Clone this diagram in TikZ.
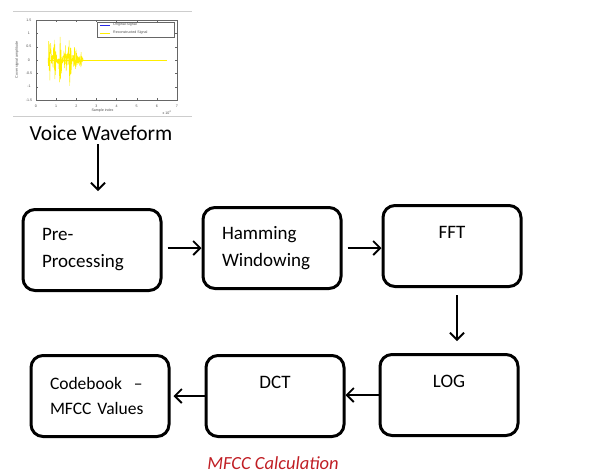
\documentclass[tikz,border=0pt]{standalone}
\usepackage{fontspec}
\setmainfont{Carlito}
\setsansfont{Liberation Sans}
\usetikzlibrary{arrows.meta}

\definecolor{capred}{RGB}{192,30,36}
\definecolor{sigyellow}{RGB}{255,238,0}
\definecolor{sigblue}{RGB}{40,40,230}
\definecolor{rulegray}{RGB}{205,205,205}

\tikzset{
  stagebox/.style={draw, line width=3pt, rounded corners=12pt, minimum width=138pt,
    minimum height=81pt, text width=100pt, inner xsep=0pt,
    font=\fontsize{19}{27}\selectfont},
  flow/.style={line width=1.8pt, -{Straight Barb[length=7pt,width=14pt]}},
  ticklbl/.style={font=\sffamily\fontsize{3.6}{4}\selectfont, text=black!70, inner sep=0.5pt}
}

\begin{document}
\begin{tikzpicture}[x=1pt, y=-1pt,
  declare function={env(\x)=0.08+1.05*exp(-((\x-0.68)/0.07)^2)+0.7*exp(-((\x-0.92)/0.07)^2)
    +0.85*exp(-((\x-1.2)/0.08)^2)+0.6*exp(-((\x-1.45)/0.07)^2)+0.9*exp(-((\x-1.68)/0.08)^2)
    +0.5*exp(-((\x-1.95)/0.08)^2)+0.35*exp(-((\x-2.2)/0.06)^2);}]
    \useasboundingbox (0,0) rectangle (595,475);

    % waveform picture
    \draw[rulegray, line width=0.8pt] (13,11) -- (192,11);
    \draw[rulegray, line width=0.8pt] (13,116) -- (192,116);
    \begin{scope}[shift={(36,60)}, x=20.14pt, y=26.67pt]
      \pgfmathsetseed{7}
      \draw[sigyellow, line width=0.6pt] (0.6,0) -- (6.5,0);
      \draw[sigyellow, line width=0.45pt] plot[domain=0.6:2.35, samples=170] (\x,{env(\x)*rand});
      \draw[black!60, line width=0.4pt] (0,-1.5) rectangle (7,1.5);
      \foreach \t in {0,...,7} {
        \draw[black!60, line width=0.3pt] (\t,-1.5) -- (\t,-1.42) (\t,1.5) -- (\t,1.42);
        \node[ticklbl] (xt\t) at (\t,-1.72) {\t};
      }
      \foreach \v/\l [count=\i] in {-1.5/-1.5,-1/-1,-0.5/-0.5,0/0,0.5/0.5,1/1,1.5/1.5} {
        \draw[black!60, line width=0.3pt] (0,\v) -- (0.1,\v) (7,\v) -- (6.9,\v);
        \node[ticklbl] (yt\i) at (-0.35,\v) {\l};
      }
      \node[ticklbl, rotate=90] (ylab) at (-0.94,0) {Cover signal amplitude};
      \node[ticklbl] (xlab) at (3.3,-1.91) {Sample index};
      \node[ticklbl] (xexp) at (6.5,-1.99) {x 10\textsuperscript{4}};
      % legend
      \draw[black!60, fill=white, line width=0.3pt] (3.03,0.86) rectangle (6.85,1.42);
      \draw[sigblue, line width=0.5pt] (3.18,1.31) -- (3.67,1.31);
      \draw[sigyellow, line width=0.8pt] (3.18,1.01) -- (3.67,1.01);
      \node[ticklbl, anchor=west] (lg1) at (3.8,1.31) {Original Signal};
      \node[ticklbl, anchor=west] (lg2) at (3.8,1.01) {Reconstructed Signal};
    \end{scope}
    \node[font=\fontsize{21.5}{26}\selectfont] (voice) at (101,133) {Voice Waveform};

    % stages
    \node[stagebox, align=left] (pre) at (92,250) {Pre-\\Processing};
    \node[stagebox, align=left] (ham) at (272,248) {Hamming\\Windowing};
    \node[stagebox, align=center] (fft) at (452,246) {FFT\\~};
    \node[stagebox, align=center] (log) at (449,395) {LOG\\~};
    \node[stagebox, align=center] (dct) at (275,396) {DCT\\~};
    \node[stagebox, align=left, font=\fontsize{17.5}{25}\selectfont] (code) at (100,396)
      {Codebook\hspace{6pt} –\\MFCC Values};

    \draw[flow, shorten >=17pt] ([xshift=-3pt]voice.south) -- ([xshift=-3pt]voice.south |- pre.north);
    \draw[flow, shorten <=5pt] (pre.east |- ham.west) -- (ham.west);
    \draw[flow, shorten <=5pt] (ham.east) -- (fft.west |- ham.east);
    \draw[flow, shorten <=7pt, shorten >=12pt] ([xshift=5pt]fft.south) -- ([xshift=5pt]fft.south |- log.north);
    \draw[flow] (log.west) -- (dct.east |- log.west);
    \draw[flow, shorten >=3pt] (dct.west) -- (code.east);

    \node[font=\itshape\fontsize{18.5}{22}\selectfont, text=capred] (caption) at (273,463) {MFCC Calculation};
\end{tikzpicture}
\end{document}
